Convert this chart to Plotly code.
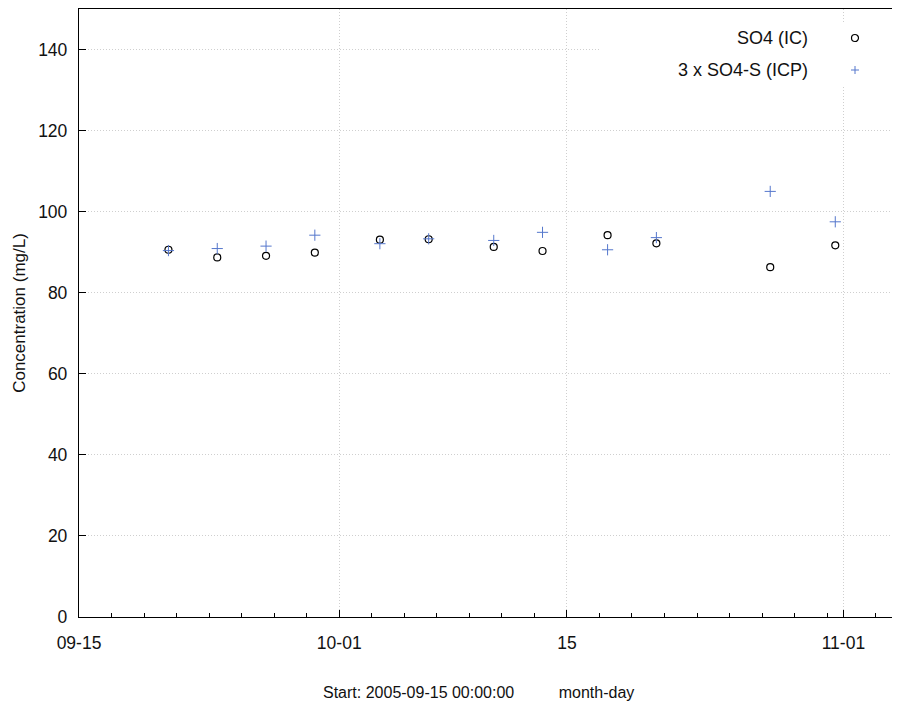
import pandas as pd
import plotly.graph_objects as go

# sample dates (noon) and concentrations in mg/L
dates = ['2005-09-20 12:00', '2005-09-23 12:00', '2005-09-26 12:00', '2005-09-29 12:00',
         '2005-10-03 12:00', '2005-10-06 12:00', '2005-10-10 12:00', '2005-10-13 12:00',
         '2005-10-17 12:00', '2005-10-20 12:00', '2005-10-27 12:00', '2005-10-31 12:00']
so4_ic = [90.6, 88.7, 89.1, 89.9, 93.1, 93.2, 91.3, 90.3, 94.2, 92.2, 86.3, 91.7]
so4s_icp_x3 = [90.4, 90.9, 91.5, 94.2, 92.1, 93.3, 92.9, 94.9, 90.6, 93.6, 105.0, 97.5]

series_names = ['SO4 (IC)', '3 x SO4-S (ICP)']
major_ticks = ['2005-09-15', '2005-10-01', '2005-10-15', '2005-11-01']
major_labels = ['09-15', '10-01', '15', '11-01']
y_ticks = [0, 20, 40, 60, 80, 100, 120, 140]

minor_ticks = [d for d in pd.date_range('2005-09-15', '2005-11-04') if d.day % 2 == 1]

FONT = 'Liberation Sans, Arial, sans-serif'
BLUE = '#5577cc'
GRID = '#cfcfcf'

# the page body has an 8px margin, so the figure is sized/offset to fit the window
PW, PH = 821, 608      # plot area in px
X0, Y0 = 79, 617       # plot origin on the page


def px(x):
    return (x - X0) / PW


def py(y):
    return (Y0 - y) / PH


fig = go.Figure()
fig.add_trace(go.Scatter(x=dates, y=so4_ic, mode='markers', name=series_names[0],
                         marker=dict(symbol='circle-open', size=7, color='black',
                                     line=dict(width=1.2, color='black'))))
fig.add_trace(go.Scatter(x=dates, y=so4s_icp_x3, mode='markers', name=series_names[1],
                         marker=dict(symbol='cross-thin-open', size=8, color=BLUE,
                                     line=dict(width=1, color=BLUE))))

# legend drawn by hand: text on the left, glyph on the right
sym_x = px(855)
leg_y = [py(38), py(70)]
shapes = [dict(type='rect', xref='paper', yref='paper', x0=px(601), x1=px(898),
               y0=py(85), y1=py(23), fillcolor='white', line=dict(width=0), layer='above'),
          dict(type='circle', xref='paper', yref='paper', xsizemode='pixel', ysizemode='pixel',
               xanchor=sym_x, yanchor=leg_y[0], x0=-3.5, x1=3.5, y0=-3.5, y1=3.5,
               line=dict(color='black', width=1.2), layer='above'),
          dict(type='line', xref='paper', yref='paper', xsizemode='pixel', ysizemode='pixel',
               xanchor=sym_x, yanchor=leg_y[1], x0=-4, x1=4, y0=0, y1=0,
               line=dict(color=BLUE, width=1), layer='above'),
          dict(type='line', xref='paper', yref='paper', xsizemode='pixel', ysizemode='pixel',
               xanchor=sym_x, yanchor=leg_y[1], x0=0, x1=0, y0=-4, y1=4,
               line=dict(color=BLUE, width=1), layer='above')]

annotations = [dict(xref='paper', yref='paper', x=px(810), y=yy, text=name,
                    xanchor='right', yanchor='middle', showarrow=False,
                    font=dict(family=FONT, size=18, color='#111'))
               for name, yy in zip(series_names, leg_y)]
annotations.append(dict(xref='paper', yref='paper', x=px(478), y=py(692),
                        text='Start: 2005-09-15 00:00:00' + '\u00a0' * 10 + 'month-day',
                        xanchor='center', yanchor='middle', showarrow=False,
                        font=dict(family=FONT, size=16, color='#111')))

fig.update_layout(
    width=892, height=698,
    margin=dict(l=71, r=0, t=1, b=89),
    paper_bgcolor='white', plot_bgcolor='white',
    font=dict(family=FONT, size=17.5, color='#111'),
    showlegend=False,
    shapes=shapes, annotations=annotations,
    xaxis=dict(range=['2005-09-15', '2005-11-04 11:30'], tickmode='array',
               tickvals=major_ticks, ticktext=major_labels,
               ticks='inside', ticklen=7, tickcolor='black', tickwidth=1,
               showline=True, linecolor='black', linewidth=1.3, mirror=True,
               showgrid=True, gridcolor=GRID, griddash='1px,2px', gridwidth=1,
               zeroline=False, ticklabelstandoff=10,
               minor=dict(tickmode='array', tickvals=minor_ticks, ticks='inside',
                          ticklen=4, tickcolor='black', showgrid=False)),
    yaxis=dict(range=[0, 150], tickmode='array', tickvals=y_ticks,
               ticks='inside', ticklen=7, tickcolor='black', tickwidth=1,
               showline=True, linecolor='black', linewidth=1.3,
               showgrid=True, gridcolor=GRID, griddash='1px,2px', gridwidth=1,
               zeroline=False, ticklabelstandoff=7,
               title=dict(text='Concentration (mg/L)', standoff=8,
                          font=dict(family=FONT, size=17, color='#111'))),
)

fig.write_html("out.html")
